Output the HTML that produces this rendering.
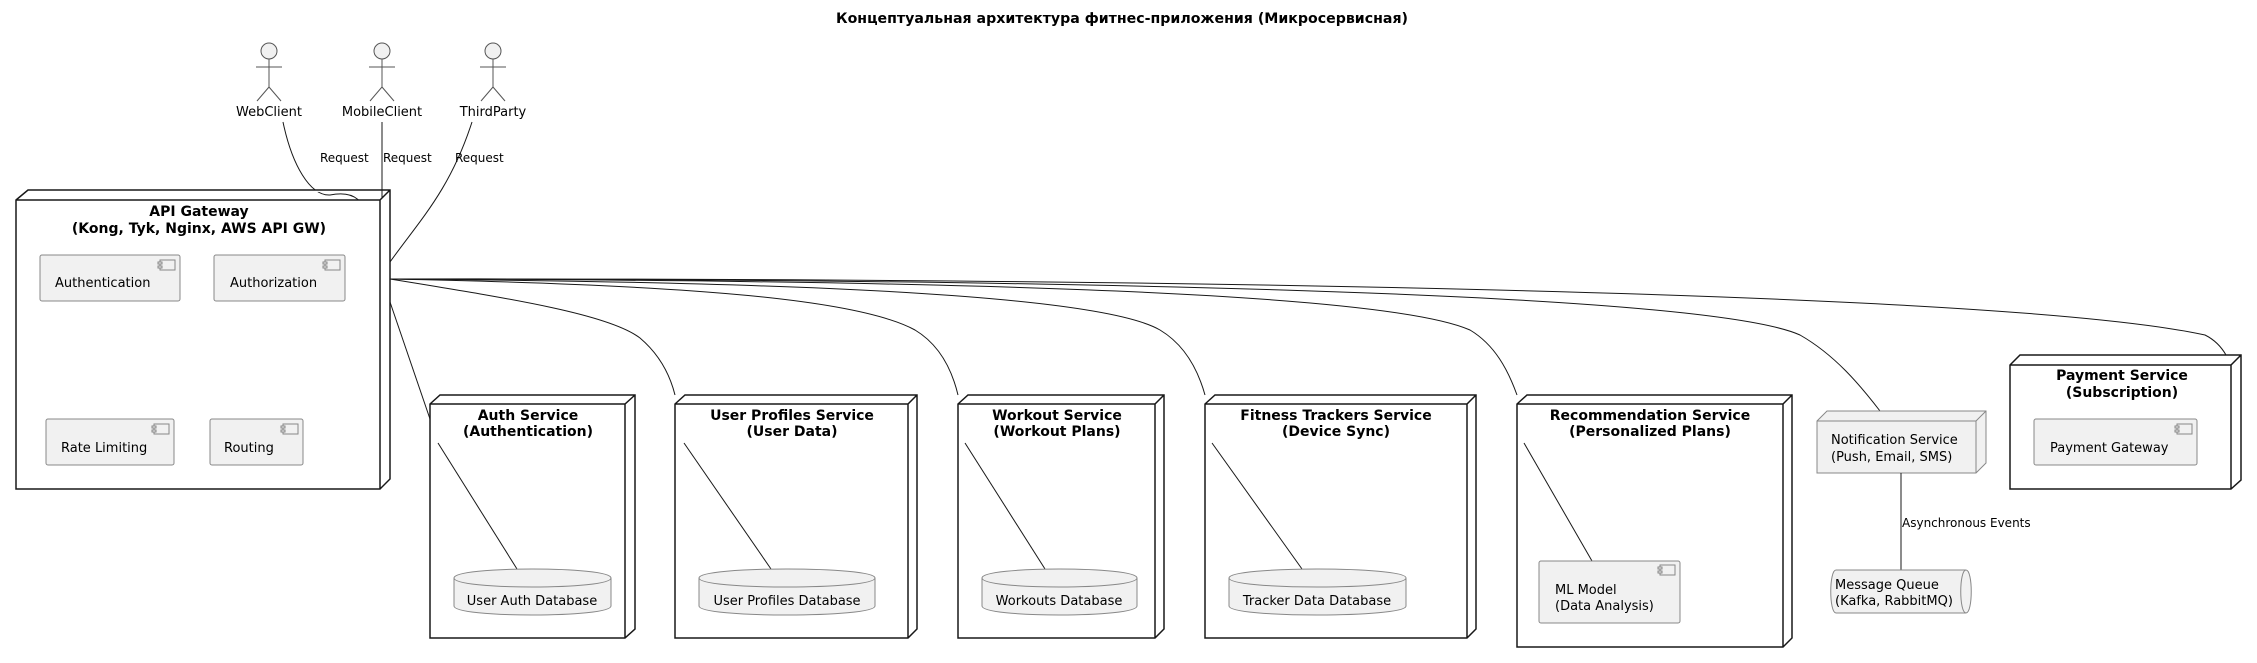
<!DOCTYPE html>
<html><head><meta charset="utf-8"><style>
html,body{margin:0;padding:0;background:#fff;}
svg{display:block;}
text{font-family:"DejaVu Sans","Liberation Sans",sans-serif;fill:#000;}
.t{font-weight:bold;font-size:14px;text-anchor:middle;}
.l{font-size:13px;}
.s{font-size:12px;}
.node{fill:#fff;stroke:#181818;stroke-width:1.5;}
.comp{fill:#f1f1f1;stroke:#888;stroke-width:1;}
.ln{fill:none;stroke:#181818;stroke-width:1;}
</style></head><body>
<svg width="2257" height="663" viewBox="0 0 2257 663" xmlns="http://www.w3.org/2000/svg">
<defs>
<g id="ic"><rect x="2" y="0" width="15" height="10" fill="#f1f1f1" stroke="#888" stroke-width="1"/><rect x="0" y="2" width="4" height="2" fill="#f1f1f1" stroke="#888" stroke-width="1"/><rect x="0" y="6" width="4" height="2" fill="#f1f1f1" stroke="#888" stroke-width="1"/></g>
</defs>
<text class="t" x="1122" y="23" textLength="572" lengthAdjust="spacingAndGlyphs">Концептуальная архитектура фитнес-приложения (Микросервисная)</text>

<g stroke="#555" stroke-width="1" fill="#f1f1f1">
<circle cx="269" cy="51" r="8"/><line x1="269" y1="59" x2="269" y2="87"/><line x1="256" y1="67" x2="282" y2="67"/><line x1="269" y1="87" x2="257" y2="101"/><line x1="269" y1="87" x2="281" y2="101"/>
<circle cx="382" cy="51" r="8"/><line x1="382" y1="59" x2="382" y2="87"/><line x1="369" y1="67" x2="395" y2="67"/><line x1="382" y1="87" x2="370" y2="101"/><line x1="382" y1="87" x2="394" y2="101"/>
<circle cx="493" cy="51" r="8"/><line x1="493" y1="59" x2="493" y2="87"/><line x1="480" y1="67" x2="506" y2="67"/><line x1="493" y1="87" x2="481" y2="101"/><line x1="493" y1="87" x2="505" y2="101"/>
</g>
<text class="l" x="269" y="116" text-anchor="middle">WebClient</text>
<text class="l" x="382" y="116" text-anchor="middle">MobileClient</text>
<text class="l" x="493" y="116" text-anchor="middle">ThirdParty</text>

<path class="ln" d="M283,122 C292,165 310,196 330,195 C355,190 365,200 372,230"/>
<line class="ln" x1="382" y1="122" x2="382" y2="230"/>
<path class="ln" d="M472,122 C450,190 420,220 390,262"/>
<text class="s" x="320" y="162">Request</text>
<text class="s" x="383" y="162">Request</text>
<text class="s" x="455" y="162">Request</text>

<path class="node" d="M16,200 L28,190 L390,190 L390,479 L380,489 L16,489 Z M16,200 L380,200 L390,190 M380,200 L380,489"/>
<text class="t" x="199" y="216">API Gateway</text>
<text class="t" x="199" y="233">(Kong, Tyk, Nginx, AWS API GW)</text>
<rect class="comp" x="40" y="255" width="140" height="46" rx="2"/><use href="#ic" x="158" y="260"/><text class="l" x="55" y="287">Authentication</text>
<rect class="comp" x="214" y="255" width="131" height="46" rx="2"/><use href="#ic" x="323" y="260"/><text class="l" x="230" y="287">Authorization</text>
<rect class="comp" x="46" y="419" width="128" height="46" rx="2"/><use href="#ic" x="152" y="424"/><text class="l" x="61" y="452">Rate Limiting</text>
<rect class="comp" x="210" y="419" width="93" height="46" rx="2"/><use href="#ic" x="281" y="424"/><text class="l" x="224" y="452">Routing</text>

<line class="ln" x1="390" y1="302" x2="430" y2="419"/>
<path class="ln" d="M390,279 C520,300 610,315 640,338 C660,355 670,375 675,395"/>
<path class="ln" d="M390,279 C700,285 860,300 915,330 C940,345 952,370 958,395"/>
<path class="ln" d="M390,279 C800,282 1100,295 1160,330 C1185,345 1198,370 1205,395"/>
<path class="ln" d="M390,279 C900,280 1380,290 1470,330 C1495,345 1508,370 1517,395"/>
<path class="ln" d="M390,279 C1000,279 1700,290 1800,335 C1835,355 1860,385 1880,411"/>
<path class="ln" d="M390,279 C1100,278 2000,290 2205,335 C2215,340 2222,348 2226,355"/>

<g>
<path class="node" d="M430,404 L440,395 L635,395 L635,629 L625,638 L430,638 Z M430,404 L625,404 L635,395 M625,404 L625,638"/>
<text class="t" x="528" y="420">Auth Service</text><text class="t" x="528" y="436">(Authentication)</text>
<line class="ln" x1="438" y1="443" x2="517" y2="569"/>
<path d="M454,578 C454,566 611,566 611,578 L611,606 C611,618 454,618 454,606 Z" fill="#f1f1f1" stroke="#888"/><path d="M454,578 C454,590 611,590 611,578" fill="none" stroke="#888"/>
<text class="l" x="532" y="605" text-anchor="middle">User Auth Database</text>
</g>
<g>
<path class="node" d="M675,404 L685,395 L917,395 L917,629 L908,638 L675,638 Z M675,404 L908,404 L917,395 M908,404 L908,638"/>
<text class="t" x="792" y="420">User Profiles Service</text><text class="t" x="792" y="436">(User Data)</text>
<line class="ln" x1="684" y1="443" x2="771" y2="569"/>
<path d="M699,578 C699,566 875,566 875,578 L875,606 C875,618 699,618 699,606 Z" fill="#f1f1f1" stroke="#888"/><path d="M699,578 C699,590 875,590 875,578" fill="none" stroke="#888"/>
<text class="l" x="787" y="605" text-anchor="middle">User Profiles Database</text>
</g>
<g>
<path class="node" d="M958,404 L968,395 L1164,395 L1164,629 L1155,638 L958,638 Z M958,404 L1155,404 L1164,395 M1155,404 L1155,638"/>
<text class="t" x="1057" y="420">Workout Service</text><text class="t" x="1057" y="436">(Workout Plans)</text>
<line class="ln" x1="965" y1="443" x2="1045" y2="569"/>
<path d="M982,578 C982,566 1137,566 1137,578 L1137,606 C1137,618 982,618 982,606 Z" fill="#f1f1f1" stroke="#888"/><path d="M982,578 C982,590 1137,590 1137,578" fill="none" stroke="#888"/>
<text class="l" x="1059" y="605" text-anchor="middle">Workouts Database</text>
</g>
<g>
<path class="node" d="M1205,404 L1215,395 L1476,395 L1476,629 L1467,638 L1205,638 Z M1205,404 L1467,404 L1476,395 M1467,404 L1467,638"/>
<text class="t" x="1336" y="420">Fitness Trackers Service</text><text class="t" x="1336" y="436">(Device Sync)</text>
<line class="ln" x1="1212" y1="443" x2="1302" y2="569"/>
<path d="M1229,578 C1229,566 1406,566 1406,578 L1406,606 C1406,618 1229,618 1229,606 Z" fill="#f1f1f1" stroke="#888"/><path d="M1229,578 C1229,590 1406,590 1406,578" fill="none" stroke="#888"/>
<text class="l" x="1317" y="605" text-anchor="middle">Tracker Data Database</text>
</g>
<g>
<path class="node" d="M1517,404 L1527,395 L1792,395 L1792,638 L1783,647 L1517,647 Z M1517,404 L1783,404 L1792,395 M1783,404 L1783,647"/>
<text class="t" x="1650" y="420">Recommendation Service</text><text class="t" x="1650" y="436">(Personalized Plans)</text>
<line class="ln" x1="1524" y1="443" x2="1592" y2="561"/>
<rect class="comp" x="1539" y="561" width="141" height="62" rx="2"/><use href="#ic" x="1658" y="565"/>
<text class="l" x="1555" y="594">ML Model</text><text class="l" x="1555" y="610">(Data Analysis)</text>
</g>

<path d="M1817,421 L1827,411 L1986,411 L1986,463 L1976,473 L1817,473 Z" fill="#f1f1f1" stroke="#888"/>
<path d="M1817,421 L1976,421 L1986,411 M1976,421 L1976,473" fill="none" stroke="#888"/>
<text class="l" x="1831" y="444">Notification Service</text><text class="l" x="1831" y="461">(Push, Email, SMS)</text>
<line class="ln" x1="1901" y1="473" x2="1901" y2="570" stroke-width="1.5"/>
<text class="s" x="1902" y="527">Asynchronous Events</text>
<path d="M1836,570 L1966,570 C1973,570 1973,613 1966,613 L1836,613 C1829,613 1829,570 1836,570 Z" fill="#f1f1f1" stroke="#888"/>
<path d="M1966,570 C1959,570 1959,613 1966,613" fill="none" stroke="#888"/>
<text class="l" x="1835" y="589">Message Queue</text><text class="l" x="1835" y="605">(Kafka, RabbitMQ)</text>

<path class="node" d="M2010,365 L2020,355 L2241,355 L2241,480 L2231,489 L2010,489 Z M2010,365 L2231,365 L2241,355 M2231,365 L2231,489"/>
<text class="t" x="2122" y="380">Payment Service</text><text class="t" x="2122" y="397">(Subscription)</text>
<rect class="comp" x="2034" y="419" width="163" height="46" rx="2"/><use href="#ic" x="2175" y="424"/>
<text class="l" x="2050" y="452">Payment Gateway</text>
</svg>
</body></html>
